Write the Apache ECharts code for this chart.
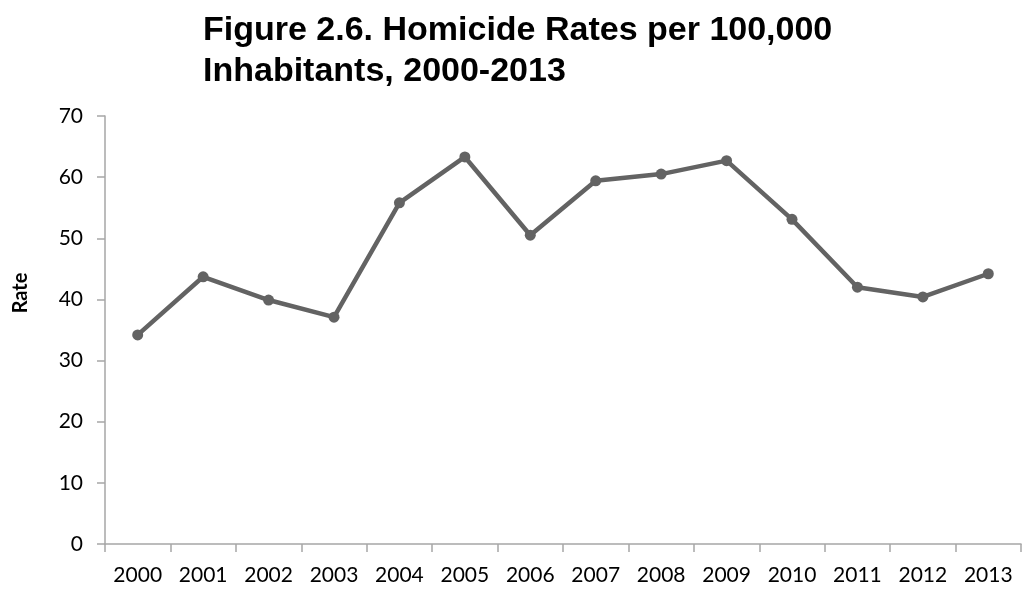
<!DOCTYPE html>
<html>
<head>
<meta charset="utf-8">
<title>Homicide Rates per 100,000 Inhabitants, 2000-2013</title>
<script src="https://cdn.jsdelivr.net/npm/echarts@6/dist/echarts.min.js"></script>
<style>
  html, body { margin: 0; padding: 0; background: #ffffff; }
  #chart { width: 1029px; height: 592px; }
</style>
</head>
<body>
<div id="chart"></div>
<script>
// Years along the horizontal axis
const years = ['2000', '2001', '2002', '2003', '2004', '2005', '2006',
               '2007', '2008', '2009', '2010', '2011', '2012', '2013'];

// Homicide rate per 100,000 inhabitants
const rates = [34.2, 43.7, 39.9, 37.1, 55.8, 63.3, 50.5,
               59.4, 60.5, 62.7, 53.1, 42.0, 40.4, 44.2];

// Value axis range and step
const rateMin = 0;
const rateMax = 70;
const rateStep = 10;

const titleText = 'Figure 2.6. Homicide Rates per 100,000\nInhabitants, 2000-2013';
const yAxisTitle = 'Rate';

const axisGray = '#a6a6a6';
const lineGray = '#636363';
const labelFont = 'Lato, "Open Sans", sans-serif';

const chart = echarts.init(document.getElementById('chart'), null, { renderer: 'canvas' });

chart.setOption({
  animation: false,
  backgroundColor: '#ffffff',
  title: {
    text: titleText,
    left: 198,
    top: 5,
    textStyle: {
      fontFamily: '"Liberation Sans", Arial, sans-serif',
      fontWeight: 'bold',
      fontSize: 34,
      lineHeight: 41,
      color: '#000000'
    }
  },
  grid: {
    left: 105,
    right: 8,
    top: 116,
    bottom: 48,
    containLabel: false,
    outerBoundsMode: 'none'
  },
  xAxis: {
    type: 'category',
    data: years,
    boundaryGap: true,
    axisLine: { show: true, lineStyle: { color: axisGray, width: 1.5 } },
    axisTick: { show: true, inside: false, length: 8, alignWithLabel: false,
                lineStyle: { color: axisGray, width: 1.5 } },
    axisLabel: {
      margin: 21,
      fontFamily: labelFont,
      fontSize: 21,
      color: '#000000',
      interval: 0
    },
    splitLine: { show: false }
  },
  yAxis: {
    type: 'value',
    min: rateMin,
    max: rateMax,
    interval: rateStep,
    name: yAxisTitle,
    nameLocation: 'middle',
    nameGap: 74,
    nameRotate: 90,
    nameTextStyle: {
      fontFamily: labelFont,
      fontWeight: 'bold',
      fontSize: 20,
      color: '#000000',
      // the title sits a little above the middle of the axis
      padding: [0, 0, 0, 74]
    },
    axisLine: { show: true, lineStyle: { color: axisGray, width: 1.5 } },
    axisTick: { show: true, inside: false, length: 8,
                lineStyle: { color: axisGray, width: 1.5 } },
    axisLabel: {
      margin: 22,
      fontFamily: labelFont,
      fontSize: 21,
      color: '#000000'
    },
    splitLine: { show: false }
  },
  series: [{
    type: 'line',
    data: rates,
    symbol: 'circle',
    symbolSize: 11,
    showSymbol: true,
    lineStyle: { color: lineGray, width: 4.5 },
    itemStyle: { color: lineGray },
    emphasis: { disabled: true }
  }]
});
</script>
</body>
</html>
